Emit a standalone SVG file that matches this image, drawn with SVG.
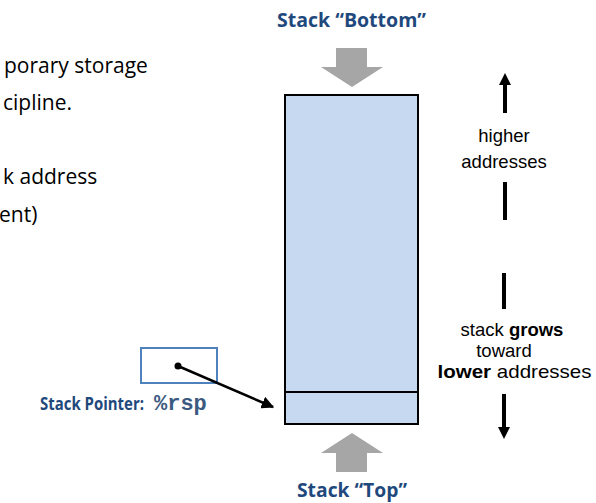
<svg xmlns="http://www.w3.org/2000/svg" width="596" height="503" viewBox="0 0 596 503">
  <style>
    .body { font-family: "Open Sans", "Liberation Sans", sans-serif; fill: #000; }
    .left { font-size: 21px; }
    .side { font-family: "Liberation Sans", Arial, sans-serif; font-size: 18.5px; text-anchor: middle; fill: #000; }
    .title { font-family: "Open Sans", "Liberation Sans", sans-serif; font-weight: bold; font-size: 19px; fill: #1f497d; }
    .label { font-size: 17px; }
    .code { font-family: "Liberation Mono", "Courier New", monospace; font-weight: bold; font-size: 22px; fill: #3b5a80; }
    .bar { stroke: #000; stroke-width: 4; fill: none; }
    .big { fill: #a6a6a6; }
  </style>
  <defs>
    <marker id="ptr-head" viewBox="0 0 10 10" refX="9" refY="5" markerWidth="5" markerHeight="5" orient="auto">
      <path d="M0,0 L10,5 L0,10 Z" fill="#000"/>
    </marker>
  </defs>

  <!-- body text (clipped on the left) -->
  <g id="notes" class="body left">
    <text x="4" y="73">porary storage</text>
    <text x="3" y="110">cipline.</text>
    <text x="3" y="184">k address</text>
    <text x="-1" y="222">ent)</text>
  </g>

  <!-- stack memory block -->
  <g id="stack">
    <rect x="285" y="95" width="133" height="329" fill="#c6d9f1" stroke="#000" stroke-width="2"/>
    <line x1="285" y1="392" x2="418" y2="392" stroke="#000" stroke-width="2"/>
  </g>

  <!-- stack bottom marker -->
  <g id="stack-bottom">
    <text class="title" x="277" y="27" textLength="149" lengthAdjust="spacingAndGlyphs">Stack “Bottom”</text>
    <path class="big" d="M336,48 H367 V67 H383 L352,87 L321,67 H336 Z"/>
  </g>

  <!-- stack top marker -->
  <g id="stack-top">
    <path class="big" d="M352,433 L383,453 H367 V472 H336 V453 H321 Z"/>
    <text class="title" x="297" y="497" textLength="110" lengthAdjust="spacingAndGlyphs">Stack “Top”</text>
  </g>

  <!-- stack pointer register -->
  <g id="rsp">
    <rect x="141" y="348" width="76" height="35" fill="none" stroke="#4f81bd" stroke-width="2"/>
    <circle cx="178" cy="366" r="3.5" fill="#000"/>
    <text class="title label" x="40" y="410" textLength="104" lengthAdjust="spacingAndGlyphs">Stack Pointer:</text>
    <text class="code" x="154" y="410">%rsp</text>
  </g>

  <!-- address direction legend -->
  <g id="direction" class="side">
    <text x="504" y="142">higher</text>
    <text x="504" y="168">addresses</text>
    <text x="512" y="336">stack <tspan font-weight="bold">grows</tspan></text>
    <text x="504" y="357">toward</text>
    <text x="514.5" y="378" textLength="154" lengthAdjust="spacingAndGlyphs"><tspan font-weight="bold">lower</tspan> addresses</text>
  </g>

  <!-- connectors -->
  <g id="connectors">
    <line x1="178" y1="366" x2="273" y2="407" stroke="#000" stroke-width="2.5" marker-end="url(#ptr-head)"/>
    <line class="bar" x1="505" y1="84" x2="505" y2="113"/>
    <path d="M499,85 L505,73 L511,85 Z" fill="#000"/>
    <line class="bar" x1="505" y1="182" x2="505" y2="220"/>
    <line class="bar" x1="504" y1="273" x2="504" y2="309"/>
    <line class="bar" x1="504" y1="394" x2="504" y2="428"/>
    <path d="M498,427 L504,439 L510,427 Z" fill="#000"/>
  </g>
</svg>
